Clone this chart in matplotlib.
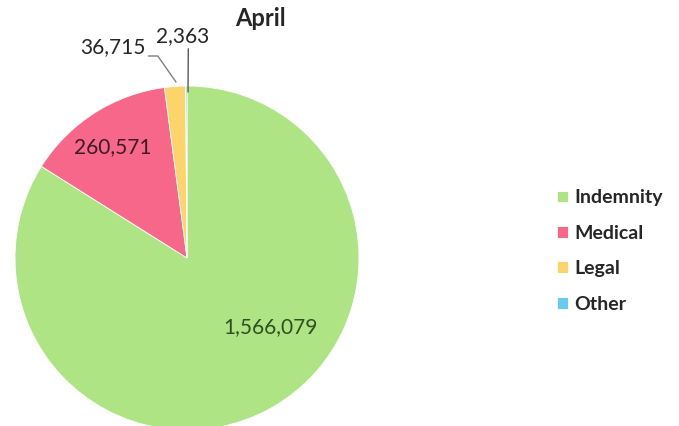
import matplotlib.pyplot as plt

plt.rcParams['font.family'] = ['Lato', 'DejaVu Sans']

# April totals by category
categories = ['Indemnity', 'Medical', 'Legal', 'Other']
values = [1566079, 260571, 36715, 2363]
colors = ['#aee484', '#f7678a', '#fdd36b', '#6bcbef']

fig = plt.figure(figsize=(6.79, 4.26), dpi=100)
W, H = 679, 426
cx, cy, r = 187, 258, 172
ax = fig.add_axes([(cx - r) / W, (H - cy - r) / H, 2 * r / W, 2 * r / H])

wedges, _ = ax.pie(values, colors=colors, startangle=90, counterclock=False,
                   radius=1, wedgeprops=dict(linewidth=0.6, edgecolor='white'))
ax.set_xlim(-1, 1)
ax.set_ylim(-1, 1)
ax.set_aspect('equal')
ax.axis('off')


def px(x, y):
    # pixel position -> pie axes data units
    return ((x - cx) / r, (cy - y) / r)


def fmt(v):
    return f'{v:,}'


# labels inside the two big slices
ax.text(*px(270, 327), fmt(values[0]), ha='center', va='center',
        fontsize=15, color='#2f4f24')
ax.text(*px(113, 147), fmt(values[1]), ha='center', va='center',
        fontsize=15, color='#3a1c26')

# small slices get callouts with leader lines
ax.annotate(fmt(values[2]), xy=px(176, 82), xytext=px(113, 47),
            ha='center', va='center', fontsize=15, color='#262626',
            annotation_clip=False,
            arrowprops=dict(arrowstyle='-', color='#7f7f7f', lw=1.0,
                            shrinkA=0, shrinkB=0,
                            connectionstyle='angle,angleA=0,angleB=125,rad=0',
                            relpos=(1.0, 0.05)))
ax.annotate(fmt(values[3]), xy=px(188, 92), xytext=px(183, 36),
            ha='center', va='center', fontsize=15, color='#262626',
            annotation_clip=False,
            arrowprops=dict(arrowstyle='-', color='#595959', lw=1.0,
                            shrinkA=0, shrinkB=0, relpos=(0.6, 0.0)))

fig.text(260 / W, 1 - 19 / H, 'April', ha='center', va='center',
         fontsize=17, fontweight='bold', color='#262626')

fig.legend(wedges, categories, loc='center left',
           bbox_to_anchor=(557 / W, 1 - 251 / H), frameon=False,
           borderaxespad=0, borderpad=0,
           prop=dict(size=14, weight='bold'), labelspacing=0.95,
           handlelength=0.55, handleheight=0.55, handletextpad=0.35,
           labelcolor='#262626')

fig.savefig('out.png', dpi=100)
